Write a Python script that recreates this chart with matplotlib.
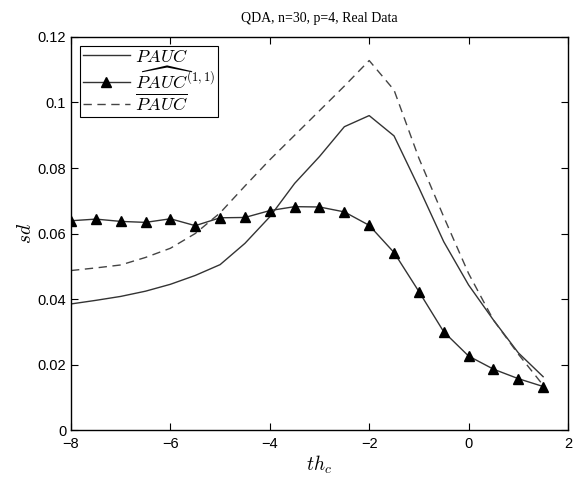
import numpy as np
import matplotlib
matplotlib.use("Agg")
import matplotlib.pyplot as plt
from matplotlib.ticker import FuncFormatter

# =========================
# DATA
# =========================
th = [-8, -7.5, -7, -6.5, -6, -5.5, -5, -4.5, -4, -3.5,
      -3, -2.5, -2, -1.5, -1, -0.5, 0, 0.5, 1, 1.5]

pauc = [0.0385, 0.0396, 0.0408, 0.0424, 0.0445, 0.0472, 0.0505, 0.0570, 0.0651, 0.0753,
        0.0835, 0.0926, 0.0960, 0.0898, 0.0740, 0.0575, 0.0443, 0.0336, 0.0236, 0.0163]

pauc_hat = [0.0639, 0.0644, 0.0637, 0.0634, 0.0645, 0.0624, 0.0648, 0.0649, 0.0670, 0.0682,
            0.0681, 0.0666, 0.0625, 0.0542, 0.0423, 0.0300, 0.0226, 0.0186, 0.0157, 0.0133]

pauc_bar = [0.0487, 0.0495, 0.0504, 0.0527, 0.0555, 0.0600, 0.0663, 0.0745, 0.0825, 0.0900,
            0.0975, 0.1050, 0.1128, 0.1038, 0.0830, 0.0651, 0.0478, 0.0336, 0.0232, 0.0137]

xticks = [-8, -6, -4, -2, 0, 2]
yticks = [0, 0.02, 0.04, 0.06, 0.08, 0.1, 0.12]

# =========================
# PLOT
# =========================
plt.rcParams["mathtext.fontset"] = "cm"
plt.rcParams["font.family"] = ["Liberation Sans", "DejaVu Sans"]

fig = plt.figure(figsize=(5.74, 4.8), dpi=100)
ax = fig.add_axes([0.1237, 0.104, 0.8658, 0.819])

ax.plot(th, pauc, color="#333333", lw=1.0, label=r"$PAUC$")
ax.plot(th, pauc_hat, color="#333333", lw=1.0, marker="^", ms=6.5,
        mfc="black", mec="black", label=r"$\widehat{PAUC}^{(1,1)}$")
ax.plot(th, pauc_bar, color="#444444", lw=1.0, ls=(0, (6, 4)), label=r"$\overline{PAUC}$")

ax.set_xlim(-8, 2)
ax.set_ylim(0, 0.12)
ax.set_xticks(xticks)
ax.set_yticks(yticks)
ax.yaxis.set_major_formatter(FuncFormatter(lambda v, p: "%g" % v))
ax.xaxis.set_major_formatter(FuncFormatter(lambda v, p: ("%g" % v).replace("-", "\u2212")))
ax.tick_params(direction="in", top=True, right=True, length=5, labelsize=10.5, width=0.8)
ax.tick_params(axis="x", pad=5)
for s in ax.spines.values():
    s.set_linewidth(1.0)

ax.set_title("QDA, n=30, p=4, Real Data", family="Liberation Serif", fontsize=10, pad=11)
ax.set_xlabel(r"$th_c$", fontsize=14, labelpad=2)
ax.set_ylabel(r"$sd$", fontsize=14, labelpad=2)

leg = ax.legend(loc="upper left", fontsize=13, frameon=True, fancybox=False,
                edgecolor="black", framealpha=1, borderpad=0.15, handlelength=2.6,
                labelspacing=0.05, handletextpad=0.3, borderaxespad=0.5)
leg.get_frame().set_linewidth(0.8)

fig.savefig("out.png", dpi=100)
